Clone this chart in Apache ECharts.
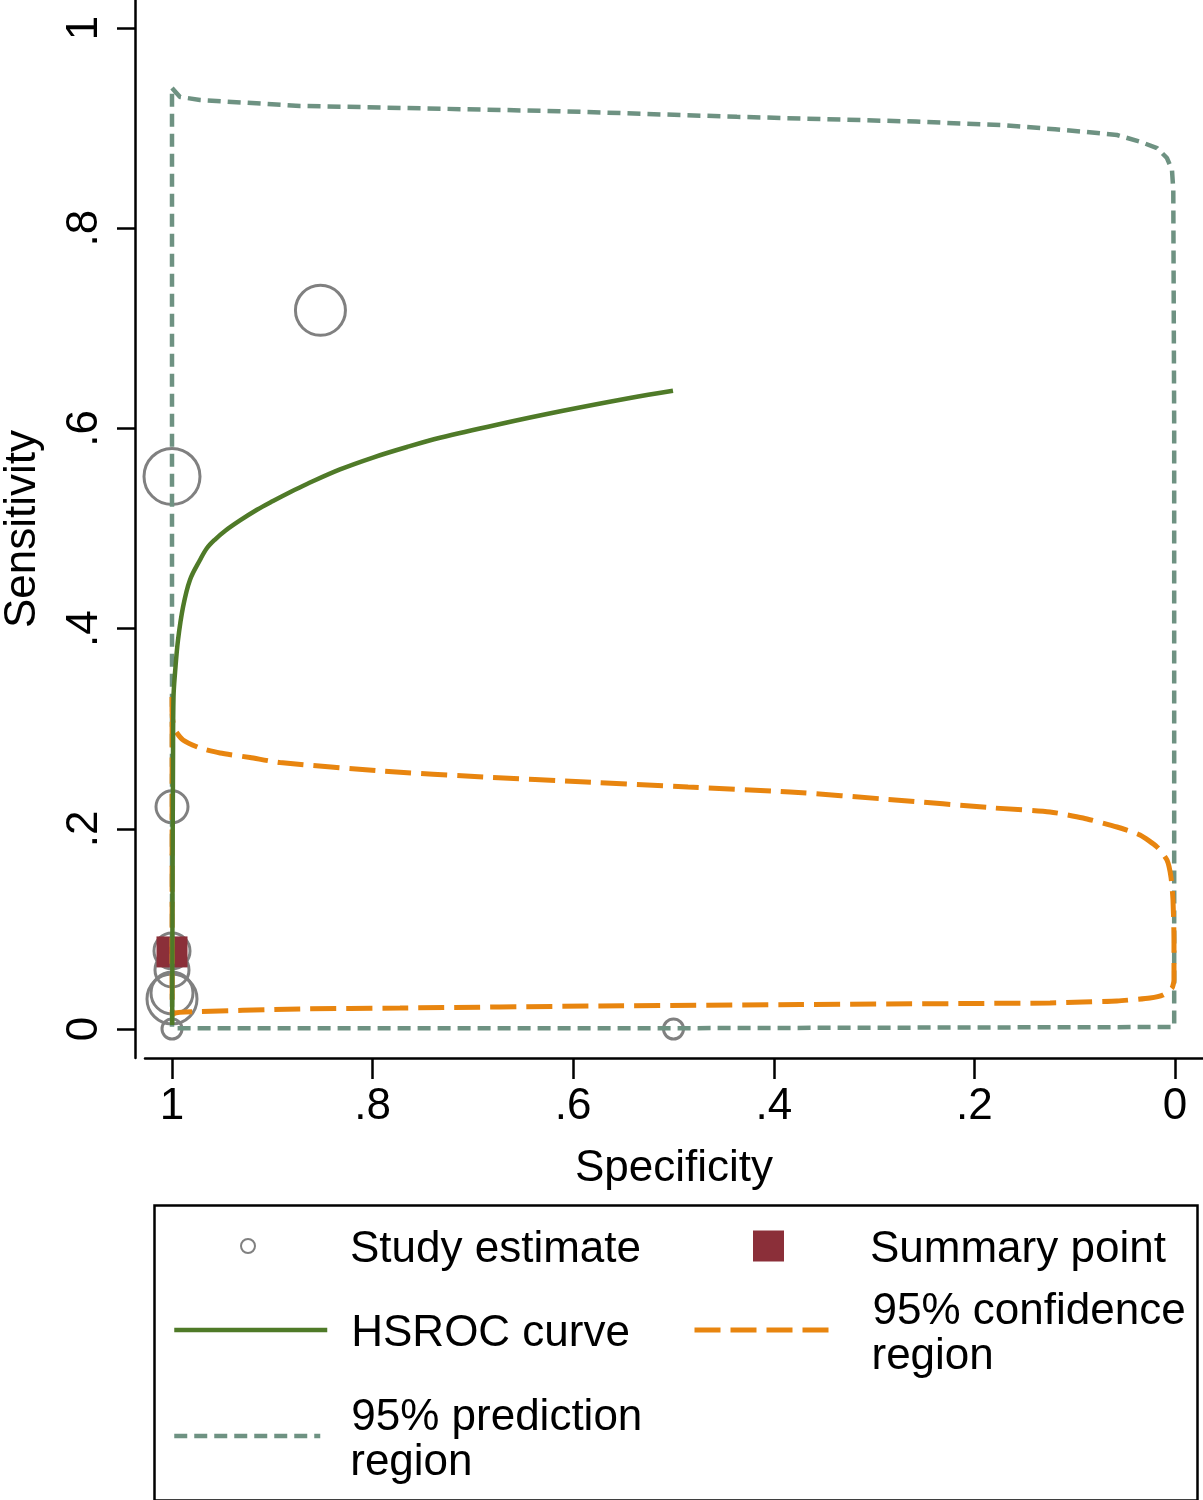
<!DOCTYPE html>
<html>
<head>
<meta charset="utf-8">
<script src="https://cdn.jsdelivr.net/npm/echarts@6/dist/echarts.min.js"></script>
<style>
html,body{margin:0;padding:0;background:#fff;}
#chart{width:1203px;height:1500px;}
</style>
</head>
<body>
<div id="chart"></div>
<script>
// ---------- data (specificity, sensitivity) ----------
const tickValues = [0, 0.2, 0.4, 0.6, 0.8, 1];
const tickLabels = ['0', '.2', '.4', '.6', '.8', '1'];

const studySpec = [0.852, 1.0, 1.0, 1.0, 1.0, 1.0, 1.0, 1.0, 0.5];
const studySens = [0.718, 0.552, 0.222, 0.078, 0.059, 0.030, 0.036, 0.0, 0.0];
const studyWeight = [25, 28, 16, 18, 17, 25, 21, 10, 10];

const summarySpec = [1.0];
const summarySens = [0.077];

const hsrocSpec = [0.9998, 0.9995, 0.999, 0.9985, 0.997, 0.994, 0.989, 0.9821, 0.9721, 0.9651, 0.9571, 0.9472, 0.9322, 0.9153, 0.8993, 0.8824, 0.8654, 0.8325, 0.7996, 0.7657, 0.7328, 0.676, 0.6102, 0.5434, 0.5005];
const hsrocSens = [0.004, 0.1289, 0.2677, 0.3317, 0.3556, 0.3886, 0.4216, 0.4486, 0.4685, 0.4805, 0.489, 0.4975, 0.508, 0.5187, 0.5275, 0.5363, 0.5445, 0.559, 0.5709, 0.5814, 0.5906, 0.6037, 0.6176, 0.6304, 0.6377];

const confSpec = [1.0, 0.9997, 0.997, 0.989, 0.9721, 0.9521, 0.9222, 0.8923, 0.7906, 0.6889, 0.5872, 0.4855, 0.3838, 0.2822, 0.1805, 0.1246, 0.0917, 0.0578, 0.0349, 0.0179, 0.008, 0.004, 0.002, 0.001, 0.001, 0.003, 0.012, 0.0249, 0.0578, 0.0917, 0.1246, 0.3739, 0.5733, 0.7727, 0.8724, 0.987, 0.997, 0.9997, 0.9999, 0.9999, 0.9999, 1.0];
const confSens = [0.3317, 0.3117, 0.2987, 0.2887, 0.2807, 0.2757, 0.2712, 0.2662, 0.2577, 0.2517, 0.2468, 0.2418, 0.2368, 0.2291, 0.2208, 0.2168, 0.2108, 0.2018, 0.1938, 0.1818, 0.1688, 0.1518, 0.1289, 0.0889, 0.049, 0.041, 0.034, 0.031, 0.028, 0.027, 0.026, 0.0245, 0.023, 0.021, 0.02, 0.017, 0.016, 0.014, 0.1, 0.2, 0.3, 0.3317];

const predSpec = [1.0, 0.992, 0.9721, 0.8724, 0.7926, 0.6142, 0.4367, 0.2582, 0.1695, 0.1196, 0.0917, 0.0578, 0.0349, 0.0179, 0.008, 0.003, 0.0017, 0.0008, 0.0008, 0.0015, 0.5, 1.0, 1.0, 1.0];
const predSens = [0.9401, 0.9311, 0.9281, 0.9221, 0.9206, 0.9169, 0.9113, 0.9065, 0.9028, 0.8988, 0.8964, 0.8931, 0.8864, 0.8801, 0.8701, 0.8581, 0.8382, 0.6, 0.002, 0.0008, 0.0008, 0.0008, 0.5, 0.9401];

const names = {
  study: 'Study estimate',
  summary: 'Summary point',
  hsroc: 'HSROC curve',
  conf: '95% confidence region',
  pred: '95% prediction region'
};

// ---------- chart ----------
const pair = (xs, ys) => xs.map((x, i) => [x, ys[i]]);
const FONT = "'Liberation Sans', Arial, Helvetica, sans-serif";
const COL = {
  pred: '#6e9282', conf: '#e8850f', hsroc: '#4f7a28', study: '#808080', summary: '#8b2f39'
};
const LW = {pred: 4.5, conf: 5, hsroc: 4.5};

const chart = echarts.init(document.getElementById('chart'), null, {renderer: 'canvas'});

const richStyles = {
  s1: {fontFamily: FONT, fontSize: 44, width: 1, height: 58, lineHeight: 58},
  s2: {fontFamily: FONT, fontSize: 44, width: 1, height: 53, lineHeight: 53},
  t1: {fontFamily: FONT, fontSize: 44, color: '#000', height: 50, lineHeight: 50, verticalAlign: 'bottom'},
  t2: {fontFamily: FONT, fontSize: 44, color: '#000', height: 45, lineHeight: 45, verticalAlign: 'bottom'},
  u2: {fontFamily: FONT, fontSize: 44, color: '#000', height: 45, lineHeight: 45, verticalAlign: 'middle'}
};

function legendFormat(n) {
  if (n.indexOf(' region') > -1) {
    const first = n.replace(' region', '');
    return '{s2| }{t2|' + first + '}\n{u2|region}';
  }
  return '{s1| }{t1|' + n + '}';
}

function legendItem(name, left, top, w, h, padLeft, lineW) {
  const lg = {
    data: [name], left: left, top: top, padding: 0,
    itemWidth: w, itemHeight: h, selectedMode: false,
    formatter: legendFormat,
    textStyle: {fontFamily: FONT, fontSize: 44, color: '#000', padding: [0, 0, 0, padLeft], rich: richStyles}
  };
  if (lineW) {
    lg.itemStyle = {opacity: 0};
    lg.lineStyle = {width: lineW};
  }
  return lg;
}

const option = {
  animation: false,
  backgroundColor: '#fff',
  grid: {left: 145, right: 0, top: 0, bottom: 442, containLabel: false, outerBoundsMode: 'none'},
  xAxis: {
    type: 'value', inverse: true, min: -0.02792, max: 1.02692,
    name: 'Specificity', nameLocation: 'middle', nameGap: 89,
    nameTextStyle: {fontFamily: FONT, fontSize: 44, color: '#000'},
    axisLine: {show: true, onZero: false, lineStyle: {color: '#000', width: 2.5}},
    axisTick: {show: true, length: 21, lineStyle: {color: '#000', width: 2.5}, customValues: tickValues},
    axisLabel: {
      customValues: tickValues, margin: 27, fontFamily: FONT, fontSize: 44, color: '#000',
      formatter: v => tickLabels[tickValues.findIndex(t => Math.abs(t - v) < 1e-9)]
    },
    splitLine: {show: false}
  },
  yAxis: {
    type: 'value', min: -0.02897, max: 1.02797, offset: 10,
    name: 'Sensitivity', nameLocation: 'middle', nameGap: 90,
    nameTextStyle: {fontFamily: FONT, fontSize: 44, color: '#000'},
    axisLine: {show: true, onZero: false, lineStyle: {color: '#000', width: 2.5}},
    axisTick: {show: true, length: 18, lineStyle: {color: '#000', width: 2.5}, customValues: tickValues},
    axisLabel: {
      customValues: tickValues, rotate: 90, margin: 28, fontFamily: FONT, fontSize: 44, color: '#000',
      formatter: v => tickLabels[tickValues.findIndex(t => Math.abs(t - v) < 1e-9)]
    },
    splitLine: {show: false}
  },
  legend: [
    legendItem(names.study, 240, 1217, 14, 14, 89, 0),
    legendItem(names.summary, 753, 1217, 31, 31, 80, 0),
    legendItem(names.hsroc, 172, 1301, 153, 30, 18, LW.hsroc),
    legendItem(names.conf, 692, 1281, 143, 30, 29, LW.conf),
    legendItem(names.pred, 172, 1387, 146, 30, 25, LW.pred)
  ],
  graphic: [{
    type: 'rect', left: 152, top: 1203, silent: true,
    shape: {width: 1043, height: 295},
    style: {fill: 'none', stroke: '#000', lineWidth: 2.5}
  }],
  series: [
    {
      name: names.study, type: 'scatter', z: 2, symbol: 'circle',
      data: studySpec.map((x, i) => [x, studySens[i], studyWeight[i]]),
      symbolSize: v => v[2] * 2,
      itemStyle: {color: 'rgba(255,255,255,0)', borderColor: COL.study, borderWidth: 3, opacity: 1}
    },
    {
      name: names.summary, type: 'scatter', z: 3, symbol: 'rect', symbolSize: 31,
      data: pair(summarySpec, summarySens),
      itemStyle: {color: COL.summary, opacity: 1}
    },
    {
      name: names.pred, type: 'line', z: 4, symbol: 'none', smooth: false,
      data: pair(predSpec, predSens),
      lineStyle: {color: COL.pred, width: LW.pred, type: [13, 7]},
      itemStyle: {color: COL.pred}
    },
    {
      name: names.conf, type: 'line', z: 5, symbol: 'none', smooth: 0.2,
      data: pair(confSpec, confSens),
      lineStyle: {color: COL.conf, width: LW.conf, type: [26, 10]},
      itemStyle: {color: COL.conf}
    },
    {
      name: names.hsroc, type: 'line', z: 6, symbol: 'none', smooth: 0.35,
      data: pair(hsrocSpec, hsrocSens),
      lineStyle: {color: COL.hsroc, width: LW.hsroc},
      itemStyle: {color: COL.hsroc}
    }
  ]
};
chart.setOption(option);
</script>
</body>
</html>
